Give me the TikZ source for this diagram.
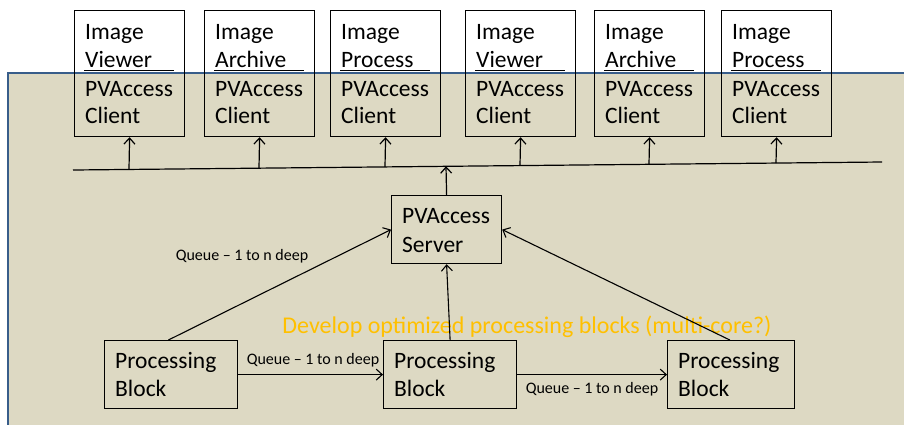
\documentclass[tikz,border=0pt]{standalone}
\usepackage{fontspec}
\setmainfont{Carlito}
\usetikzlibrary{arrows.meta,calc}
\definecolor{bgtan}{HTML}{DDD9C3}
\definecolor{bgblue}{HTML}{385D8A}
\definecolor{orangetxt}{HTML}{FFC000}
\tikzset{
  box/.style={draw=black, line width=1.2pt, rectangle, inner sep=0pt, anchor=north west},
  boxtxt/.style={inner sep=0pt, anchor=base west, font=\fontsize{23.5}{28}\selectfont},
  qlabel/.style={inner sep=0pt, font=\fontsize{16}{19}\selectfont},
  arr/.style={line width=1.2pt, -{Straight Barb[length=6pt,width=11pt,line width=1.2pt]}},
  thinarr/.style={line width=1.1pt, -{Straight Barb[length=6pt,width=11pt,line width=1.1pt]}},
}
\begin{document}
\begin{tikzpicture}[x=1pt,y=-1pt]
\useasboundingbox (0,0) rectangle (904,424);
% background panel
\fill[bgtan] (8,73) rectangle (906,426);
\draw[bgblue, line width=2.2pt] (8,426) -- (8,73) -- (906,73);
% bus
\coordinate (busL) at (73,170);
\coordinate (busR) at (882,162);
\draw[line width=1.2pt] (busL) -- (busR);
% top client boxes
\foreach \n/\x/\a in {c1/74/Viewer, c2/204/Archive, c3/330/Process, c4/465/Viewer, c5/594/Archive, c6/721/Process}{
  \node[box, minimum width=110pt, minimum height=126pt] (\n) at (\x,10) {};
  \node[boxtxt] (\n t1) at (\x+11,39) {Image};
  \node[boxtxt] (\n t2) at (\x+11,67) {\a};
  \node[boxtxt] (\n t3) at (\x+11,96) {PVAccess};
  \node[boxtxt] (\n t4) at (\x+11,123) {Client};
  \draw[line width=1pt] (\x+10,70) -- (\x+100,70);
  \coordinate (\n b) at ($(busL)!{(\x+55-73)/809}!(busR)$);
  \draw[arr] (\n b) -- (\n.south);
}
% server
\node[box, minimum width=110pt, minimum height=68pt] (srv) at (391,195) {};
\node[boxtxt] (srvt1) at (402,223) {PVAccess};
\node[boxtxt] (srvt2) at (402,252) {Server};
\coordinate (srvb) at ($(busL)!{(446-73)/809}!(busR)$);
\draw[arr] (srv.north) -- (srvb);
% processing blocks
\node[box, minimum width=133pt, minimum height=68pt] (pb1) at (104,340) {};
\node[boxtxt] (pb1t1) at (115,368) {Processing};
\node[boxtxt] (pb1t2) at (115,396) {Block};
\node[box, minimum width=133pt, minimum height=68pt] (pb2) at (383,340) {};
\node[boxtxt] (pb2t1) at (394,368) {Processing};
\node[boxtxt] (pb2t2) at (394,396) {Block};
\node[box, minimum width=127pt, minimum height=68pt] (pb3) at (667,340) {};
\node[boxtxt] (pb3t1) at (678,368) {Processing};
\node[boxtxt] (pb3t2) at (678,396) {Block};
% orange note
\node[inner sep=0pt, text=orangetxt, font=\fontsize{24}{28}\selectfont] (note) at (527,327) {Develop optimized processing blocks (multi-core?)};
% connectors to server
\draw[thinarr] ($(pb1.north west)!0.48!(pb1.north east)$) -- ($(srv.north west)!0.5!(srv.south west)$);
\draw[thinarr] ($(pb2.north west)!0.5!(pb2.north east)$) -- (srv.south);
\draw[thinarr] ($(pb3.north west)!0.49!(pb3.north east)$) -- ($(srv.north east)!0.5!(srv.south east)$);
% horizontal queues
\draw[thinarr] (pb1.east) -- (pb2.west);
\draw[thinarr] (pb2.east) -- (pb3.west);
% labels
\node[qlabel] (q1) at (242,256) {Queue – 1 to n deep};
\node[qlabel] (q2) at (313,360) {Queue – 1 to n deep};
\node[qlabel] (q3) at (592,389) {Queue – 1 to n deep};
\end{tikzpicture}
\end{document}
